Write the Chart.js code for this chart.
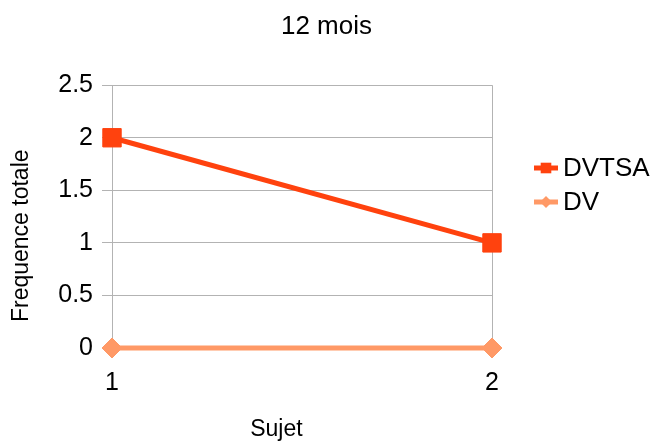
<!DOCTYPE html>
<html>
<head>
<meta charset="utf-8">
<script src="https://cdn.jsdelivr.net/npm/chart.js@4"></script>
<style>
  html, body { margin: 0; padding: 0; background: #fff; }
  #wrap { width: 653px; height: 443px; }
</style>
</head>
<body>
<div id="wrap"><canvas id="chart" width="653" height="443"></canvas></div>
<script>
// chart data
var sujets = ['1', '2'];
var dvtsa = [2, 1];
var dv = [0, 0];
var yTicks = [0, 0.5, 1, 1.5, 2, 2.5];

var FONT = 'Liberation Sans, Arial, sans-serif';
var GRID = '#b3b3b3';
var NB = '\u00a0';

// legend on the right, line + marker like the original
var sideLegend = {
    id: 'sideLegend',
    afterDraw: function (chart) {
        var ctx = chart.ctx;
        var x0 = 534, y0 = 168, gap = 34;
        chart.data.datasets.forEach(function (ds, i) {
            var y = y0 + i * gap;
            ctx.save();
            ctx.strokeStyle = ds.borderColor;
            ctx.fillStyle = ds.borderColor;
            ctx.lineWidth = 5;
            ctx.beginPath();
            ctx.moveTo(x0, y);
            ctx.lineTo(x0 + 24, y);
            ctx.stroke();
            Chart.helpers.drawPoint(ctx, {
                pointStyle: ds.pointStyle,
                radius: ds.pointStyle === 'rect' ? 7.5 : 6,
                borderWidth: 0
            }, x0 + 12, y);
            ctx.fillStyle = '#000';
            ctx.font = '26px ' + FONT;
            ctx.textBaseline = 'middle';
            ctx.fillText(ds.label, x0 + 29, y + 1);
            ctx.restore();
        });
    }
};

new Chart(document.getElementById('chart'), {
    type: 'line',
    data: {
        labels: sujets,
        datasets: [{
            label: 'DVTSA',
            data: dvtsa,
            borderColor: '#ff420e',
            backgroundColor: '#ff420e',
            borderWidth: 5,
            pointStyle: 'rect',
            pointRadius: 13,
            pointBorderWidth: 1,
            clip: false
        }, {
            label: 'DV',
            data: dv,
            borderColor: '#ff9966',
            backgroundColor: '#ff9966',
            borderWidth: 5,
            pointStyle: 'rectRot',
            pointRadius: 10,
            pointBorderWidth: 1,
            clip: false
        }]
    },
    options: {
        responsive: false,
        animation: false,
        plugins: {
            legend: { display: false },
            tooltip: { enabled: false },
            title: {
                display: true,
                text: '12 mois',
                color: '#000',
                font: { family: FONT, size: 26, weight: 'normal' },
                padding: { top: 11, bottom: 43 }
            }
        },
        scales: {
            x: {
                grid: { color: GRID, tickLength: 10 },
                border: { color: GRID },
                ticks: { color: '#000', padding: 10, font: { family: FONT, size: 25 } },
                title: {
                    display: true,
                    text: 'Sujet' + NB.repeat(8),
                    color: '#000',
                    font: { family: FONT, size: 23 },
                    padding: { top: 0, bottom: 0 }
                },
                afterFit: function (s) { s.height = 95; }
            },
            y: {
                min: 0,
                max: 2.5,
                grid: { color: GRID, tickLength: 10 },
                border: { color: GRID },
                afterBuildTicks: function (s) {
                    s.ticks = yTicks.map(function (v) { return { value: v }; });
                },
                ticks: {
                    color: '#000',
                    padding: 9,
                    font: { family: FONT, size: 25 },
                    callback: function (v) { return String(v); }
                },
                title: {
                    display: true,
                    text: 'Frequence totale' + NB.repeat(6),
                    color: '#000',
                    font: { family: FONT, size: 23 },
                    padding: { top: 8, bottom: 0 }
                },
                afterFit: function (s) { s.width = 112; }
            },
            // empty right-hand axis that only reserves room for the legend
            side: {
                position: 'right',
                display: true,
                grid: { display: false },
                border: { display: false },
                ticks: { display: false },
                afterFit: function (s) { s.width = 161; }
            }
        }
    },
    plugins: [sideLegend]
});
</script>
</body>
</html>
